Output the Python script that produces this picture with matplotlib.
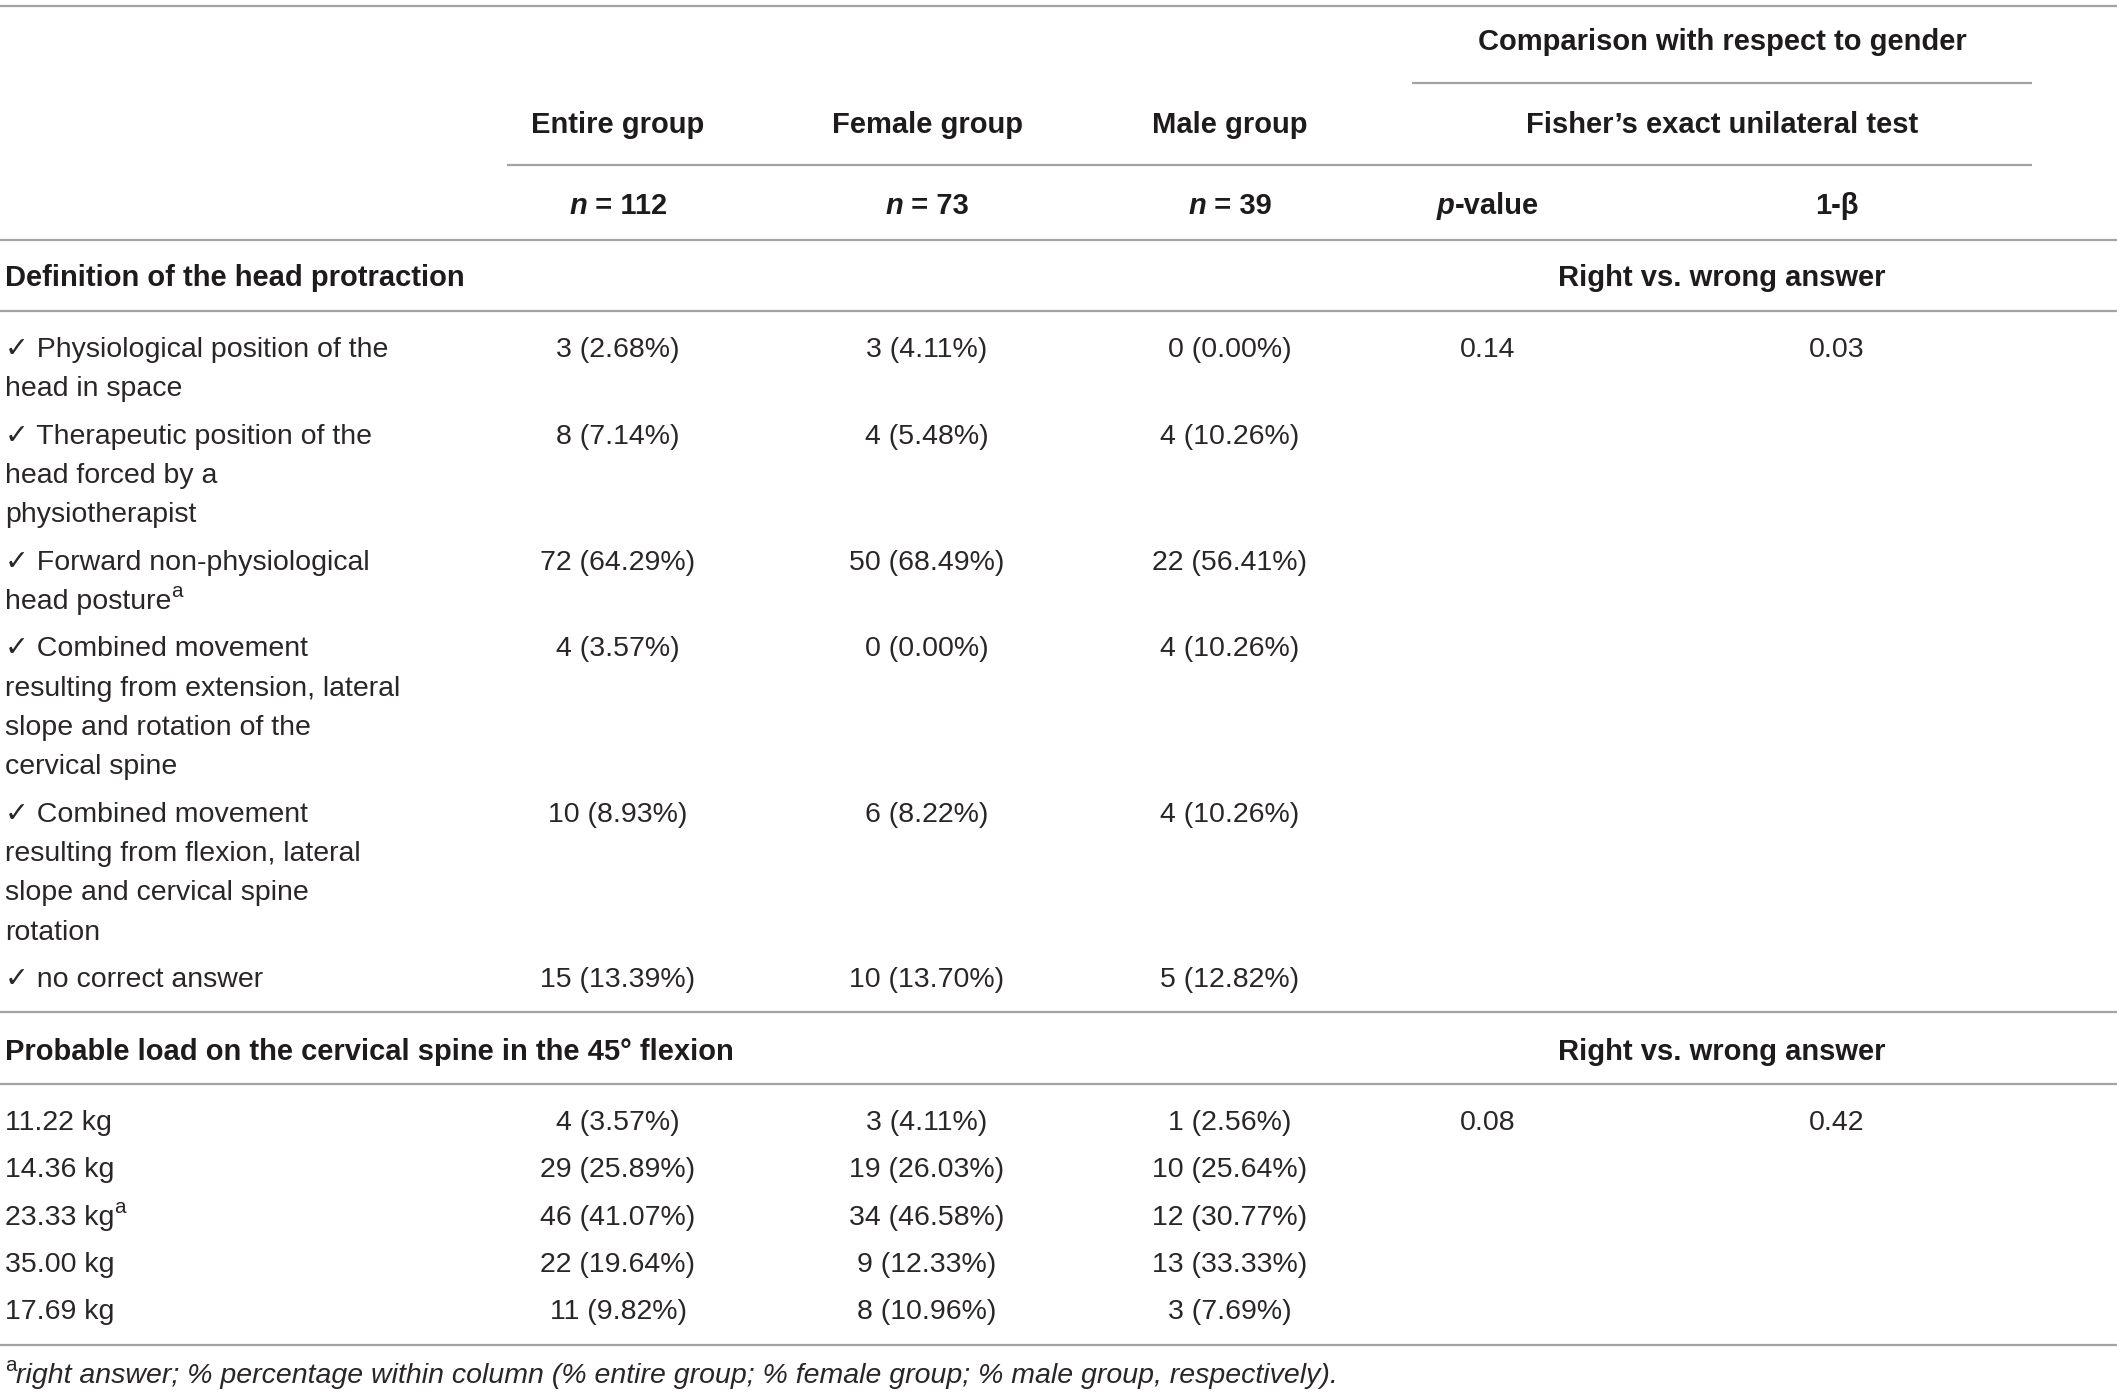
import matplotlib
matplotlib.use("Agg")
import matplotlib.pyplot as plt

# ---------------- data ----------------
col_groups = ["Entire group", "Female group", "Male group"]
col_n = ["112", "73", "39"]
comparison_title = "Comparison with respect to gender"
test_title = "Fisher\u2019s exact unilateral test"
section_titles = ["Definition of the head protraction",
                  "Probable load on the cervical spine in the 45\u00b0 flexion"]
section_right = "Right vs. wrong answer"

def_labels = [
    ["\u2713 Physiological position of the", "head in space"],
    ["\u2713 Therapeutic position of the", "head forced by a", "physiotherapist"],
    ["\u2713 Forward non-physiological", "head posture"],
    ["\u2713 Combined movement", "resulting from extension, lateral",
     "slope and rotation of the", "cervical spine"],
    ["\u2713 Combined movement", "resulting from flexion, lateral",
     "slope and cervical spine", "rotation"],
    ["\u2713 no correct answer"],
]
def_right = [False, False, True, False, False, False]
def_entire = ["3 (2.68%)", "8 (7.14%)", "72 (64.29%)", "4 (3.57%)", "10 (8.93%)", "15 (13.39%)"]
def_female = ["3 (4.11%)", "4 (5.48%)", "50 (68.49%)", "0 (0.00%)", "6 (8.22%)", "10 (13.70%)"]
def_male = ["0 (0.00%)", "4 (10.26%)", "22 (56.41%)", "4 (10.26%)", "4 (10.26%)", "5 (12.82%)"]
def_p = "0.14"
def_beta = "0.03"

load_labels = ["11.22 kg", "14.36 kg", "23.33 kg", "35.00 kg", "17.69 kg"]
load_right = [False, False, True, False, False]
load_entire = ["4 (3.57%)", "29 (25.89%)", "46 (41.07%)", "22 (19.64%)", "11 (9.82%)"]
load_female = ["3 (4.11%)", "19 (26.03%)", "34 (46.58%)", "9 (12.33%)", "8 (10.96%)"]
load_male = ["1 (2.56%)", "10 (25.64%)", "12 (30.77%)", "13 (33.33%)", "3 (7.69%)"]
load_p = "0.08"
load_beta = "0.42"

footnote = ("right answer; % percentage within column "
            "(% entire group; % female group; % male group, respectively).")

# ---------------- layout ----------------
W, H = 2117, 1395
FAM = ["Liberation Sans", "DejaVu Sans"]
FS = 20.5
FSB = 21.0
TXT = "#2a2627"
BTXT = "#1e1b1c"
LINEC = "#a3a3a3"
LW = 1.6

fig = plt.figure(figsize=(W / 100, H / 100), dpi=100)
ax = fig.add_axes([0, 0, 1, 1])
ax.set_xlim(0, W)
ax.set_ylim(H, 0)
ax.axis("off")
fig.canvas.draw()
renderer = fig.canvas.get_renderer()

def runs(x, yc, parts, ha="left"):
    """parts: list of (text, dict(style)). yc = visual centre of capitals."""
    base = yc + 10
    objs = []
    widths = []
    for s, st in parts:
        st = dict(st)
        sup = st.pop("sup", False)
        bold = st.get("weight") == "bold"
        size = st.pop("size", FS * (0.72 if sup else 1.0) if not bold else FSB)
        color = st.pop("color", BTXT if bold else TXT)
        t = ax.text(0, base - (12 if sup else 0), s, fontsize=size, family=FAM,
                    color=color, va="baseline", ha="left", **st)
        bb = t.get_window_extent(renderer)
        objs.append(t)
        widths.append(bb.width)
    total = sum(widths)
    x0 = x - total / 2 if ha == "center" else x
    cur = x0
    for t, w in zip(objs, widths):
        t.set_x(cur)
        cur += w
    return objs

def hline(y, x0=0, x1=W):
    ax.plot([x0, x1], [y, y], color=LINEC, lw=LW, solid_capstyle="butt")

B = {"weight": "bold"}
BI = {"weight": "bold", "style": "italic"}
R = {}
I = {"style": "italic"}

x_left = 5
x_cols = [618, 927, 1230]
x_p = 1488
x_beta = 1837
x_cmp = 1722

# header
hline(6)
runs(x_cmp, 40, [(comparison_title, B)], ha="center")
hline(83, 1412, 2032)
for xc, g in zip(x_cols, col_groups):
    runs(xc, 123, [(g, B)], ha="center")
runs(x_cmp, 123, [(test_title, B)], ha="center")
hline(165, 507, 2032)
for xc, n in zip(x_cols, col_n):
    runs(xc, 204, [("n", BI), (" = " + n, B)], ha="center")
runs(x_p, 204, [("p", BI), ("-value", B)], ha="center")
runs(x_beta, 204, [("1-\u03b2", B)], ha="center")
hline(240)

# section 1
runs(x_left, 276, [(section_titles[0], B)])
runs(x_cmp, 276, [(section_right, B)], ha="center")
hline(311)
LS = 39.5
GAP = 47
y = 347
for i, lines in enumerate(def_labels):
    for k, ln in enumerate(lines):
        parts = [(ln, R)]
        if def_right[i] and k == len(lines) - 1:
            parts.append(("a", {"sup": True}))
        runs(x_left, y + k * LS, parts)
    for xc, v in zip(x_cols, [def_entire[i], def_female[i], def_male[i]]):
        runs(xc, y, [(v, R)], ha="center")
    if i == 0:
        runs(x_p, y, [(def_p, R)], ha="center")
        runs(x_beta, y, [(def_beta, R)], ha="center")
    y = y + (len(lines) - 1) * LS + GAP
hline(1012)

# section 2
runs(x_left, 1050, [(section_titles[1], B)])
runs(x_cmp, 1050, [(section_right, B)], ha="center")
hline(1084)
y = 1120
for i, lab in enumerate(load_labels):
    parts = [(lab, R)]
    if load_right[i]:
        parts.append(("a", {"sup": True}))
    runs(x_left, y, parts)
    for xc, v in zip(x_cols, [load_entire[i], load_female[i], load_male[i]]):
        runs(xc, y, [(v, R)], ha="center")
    if i == 0:
        runs(x_p, y, [(load_p, R)], ha="center")
        runs(x_beta, y, [(load_beta, R)], ha="center")
    y += 47.3
hline(1345)

# footnote
runs(x_left, 1373, [("a", {"sup": True}), (footnote, I)])

fig.savefig("out.png", dpi=100, facecolor="white")
